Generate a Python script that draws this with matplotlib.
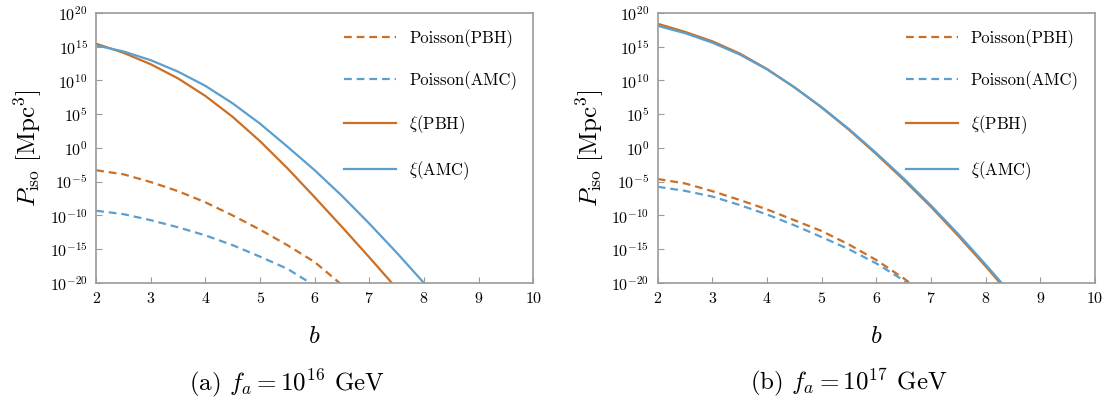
# P_iso vs b for two values of f_a, log scale

import numpy as np
import matplotlib.pyplot as plt

plt.rcParams['font.family'] = 'serif'
plt.rcParams['font.serif'] = ['cmr10']
plt.rcParams['mathtext.fontset'] = 'cm'
plt.rcParams['axes.formatter.use_mathtext'] = True
plt.rcParams['axes.unicode_minus'] = False

b = np.array([2.0, 2.5, 3.0, 3.5, 4.0, 4.5, 5.0, 5.5, 6.0, 6.5, 7.0, 7.5, 8.0, 8.5])
nan = np.nan

# log10(P_iso / Mpc^3), panel (a): f_a = 1e16 GeV
pois_pbh_a = [-3.3, -3.9, -5.05, -6.4, -8.05, -10.0, -12.1, -14.4, -16.9, -20.3, nan, nan, nan, nan]
pois_amc_a = [-9.3, -9.8, -10.7, -11.75, -12.95, -14.4, -16.1, -17.9, -20.4, nan, nan, nan, nan, nan]
xi_pbh_a = [15.45, 14.1, 12.4, 10.3, 7.7, 4.6, 1.0, -3.0, -7.3, -11.7, -16.2, -20.8, nan, nan]
xi_amc_a = [15.2, 14.3, 13.0, 11.3, 9.2, 6.6, 3.6, 0.2, -3.3, -7.1, -11.2, -15.5, -20.0, -24.7]

# panel (b): f_a = 1e17 GeV
pois_pbh_b = [-4.6, -5.25, -6.4, -7.7, -9.1, -10.7, -12.3, -14.3, -16.6, -19.3, -22.3, nan, nan, nan]
pois_amc_b = [-5.75, -6.35, -7.2, -8.45, -9.85, -11.45, -13.2, -15.0, -17.1, -19.6, -22.3, nan, nan, nan]
xi_pbh_b = [18.4, 17.2, 15.8, 14.0, 11.7, 9.0, 6.0, 2.7, -0.9, -4.7, -8.7, -13.0, -17.5, -22.2]
xi_amc_b = [18.1, 17.0, 15.6, 13.85, 11.65, 9.0, 6.05, 2.8, -0.75, -4.5, -8.5, -12.75, -17.25, -21.9]

labels = ['Poisson(PBH)', 'Poisson(AMC)', r'$\xi$(PBH)', r'$\xi$(AMC)']
captions = [r'(a) $f_a = 10^{16}$ GeV', r'(b) $f_a = 10^{17}$ GeV']

orange = '#CC6F24'
blue = '#5B9FCF'
gray = '#9A9A9A'

fig = plt.figure(figsize=(11.12, 4.03), dpi=100)
ax1 = fig.add_axes([0.0865, 0.2978, 0.393, 0.670])
ax2 = fig.add_axes([0.5915, 0.2978, 0.393, 0.670])

panels = [
    (ax1, [pois_pbh_a, pois_amc_a, xi_pbh_a, xi_amc_a]),
    (ax2, [pois_pbh_b, pois_amc_b, xi_pbh_b, xi_amc_b]),
]

for i, (ax, series) in enumerate(panels):
    colors = [orange, blue, orange, blue]
    styles = ['--', '--', '-', '-']
    for vals, c, ls, lab in zip(series, colors, styles, labels):
        line, = ax.semilogy(b, 10.0 ** np.array(vals, dtype=float), color=c, ls=ls, lw=1.6, label=lab)
        if ls == '--':
            line.set_dashes([3.5, 2.2])
    ax.set_xlim(2, 10)
    ax.set_ylim(1e-20, 1e20)
    ax.set_yticks([10.0 ** k for k in range(-20, 21, 5)])
    ax.minorticks_off()
    ax.set_xticks(range(2, 11))
    ax.tick_params(direction='in', length=4, width=0.8, color=gray, labelsize=11.5, pad=6)
    for s in ax.spines.values():
        s.set_color(gray)
        s.set_linewidth(1.2)
    ax.set_xlabel(r'$b$', fontsize=18, labelpad=14)
    ax.set_ylabel(r'$P_{\rm iso}\ [{\rm Mpc}^3]$', fontsize=18, labelpad=4)
    ax.legend(loc='upper right', frameon=False, fontsize=12, handlelength=3.1,
              labelspacing=1.4, handletextpad=0.8, borderaxespad=0.55)

fig.text(0.258, 0.05, captions[0], fontsize=18, ha='center', va='center')
fig.text(0.763, 0.05, captions[1], fontsize=18, ha='center', va='center')

fig.savefig('out.png', dpi=100)
